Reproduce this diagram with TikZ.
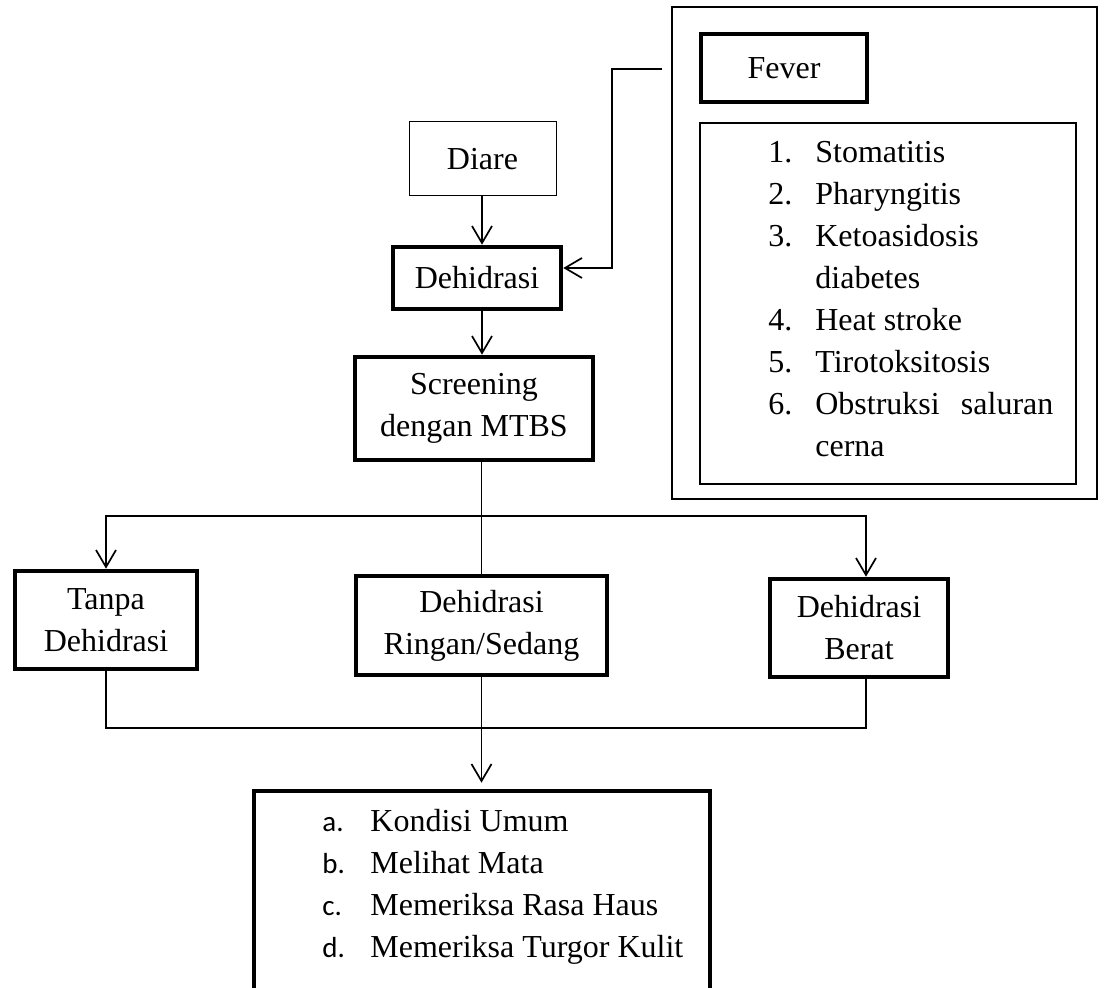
\documentclass[tikz,border=0pt]{standalone}
\usepackage{fontspec}
\setmainfont{Liberation Serif}
\newfontfamily\hurufsans{Carlito}
\usepackage{tikz}
\usetikzlibrary{
  arrows.meta
}
\tikzset{
  >={Straight Barb[length=8.5pt,width=10pt]},
  every node/.style={font=\fontsize{16}{21}\selectfont},
  kotak/.style={draw, line width=0.5pt, align=center, inner sep=0pt},
  kotaktebal/.style={kotak, line width=2.3pt},
  bingkai/.style={draw, line width=0.65pt, inner sep=0pt},
  garis/.style={line width=0.85pt},
  daftar/.style={anchor=base west, inner sep=0pt, align=left}
}

\begin{document}
\begin{tikzpicture}[x=0.5pt, y=-0.5pt]
    \clip (0,0) rectangle (1105,988);

    % kolom utama
    \node[kotak, minimum width=73.5pt, minimum height=37pt] (diare) at (482.5,159) {Diare};
    \node[kotaktebal, minimum width=84pt, minimum height=31pt] (dehid) at (477,278) {Dehidrasi};
    \node[kotaktebal, minimum width=119pt, minimum height=51.5pt] (skrining) at (474,408.5) {Screening\\dengan MTBS};

    % kotak fever
    \node[bingkai, minimum width=212.5pt, minimum height=246pt] (luar) at (884.5,253) {};
    \node[kotaktebal, minimum width=83pt, minimum height=34pt] (demam) at (784,68) {Fever};
    \node[bingkai, minimum width=188pt, minimum height=180.5pt] (sebab) at (888,303.5) {};
    \node[daftar] (daftarsebab) at (768,163) {%
      \begin{tabular}[t]{@{}p{23.5pt}@{}l@{}}
        1. & Stomatitis\\
        2. & Pharyngitis\\
        3. & Ketoasidosis\\
           & diabetes\\
        4. & Heat stroke\\
        5. & Tirotoksitosis\\
        6. & \makebox[119pt][s]{Obstruksi saluran}\\
           & cerna
      \end{tabular}};

    % klasifikasi
    \node[kotaktebal, minimum width=91pt, minimum height=49pt] (tanpa) at (106,620) {Tanpa\\Dehidrasi};
    \node[kotaktebal, minimum width=125.5pt, minimum height=49.5pt] (ringan) at (481.5,625.5) {Dehidrasi\\Ringan/Sedang};
    \node[kotaktebal, minimum width=89pt, minimum height=49pt] (berat) at (859,628) {Dehidrasi\\Berat};

    % pemeriksaan
    \node[kotaktebal, minimum width=228pt, minimum height=104.5pt] (periksa) at (482,895.5) {};
    \node[daftar] (daftarperiksa) at (322,832) {%
      \begin{tabular}[t]{@{}p{24pt}@{}l@{}}
        {\hurufsans\fontsize{14.5}{21}\selectfont a.} & Kondisi Umum\\
        {\hurufsans\fontsize{14.5}{21}\selectfont b.} & Melihat Mata\\
        {\hurufsans\fontsize{14.5}{21}\selectfont c.} & Memeriksa Rasa Haus\\
        {\hurufsans\fontsize{14.5}{21}\selectfont d.} & Memeriksa Turgor Kulit
      \end{tabular}};

    \coordinate (demamujung) at (662,69);
    \coordinate (cabang) at (481.5,516);
    \coordinate (gabung) at (481.5,728);

    \draw[garis, ->] (diare.south -| 482,0) -- (dehid.north -| 482,0);
    \draw[garis, ->] (dehid.south -| 482,0) -- (skrining.north -| 482,0);
    \draw[garis, ->] (demamujung) -- ++(-50,0) |- ([yshift=5pt]dehid.east);

    \draw[garis] (ringan.north |- skrining.south) -- (ringan.north);
    \draw[garis, ->] (cabang) -| (tanpa.north);
    \draw[garis, ->] (cabang) -| ([xshift=3.5pt]berat.north);

    \draw[garis] (tanpa.south) |- (gabung) -| ([xshift=3.5pt]berat.south);
    \draw[garis, ->, shorten >=3pt] (ringan.south) -- (ringan.south |- periksa.north);
  \end{tikzpicture}
\end{document}
